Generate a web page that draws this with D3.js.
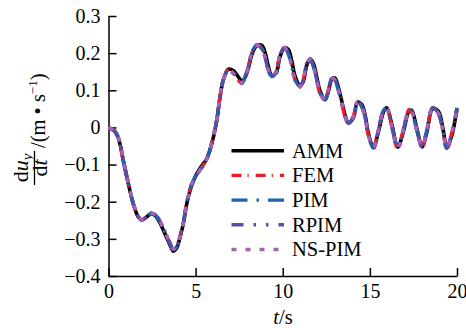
<!DOCTYPE html>
<html>
<head>
<meta charset="utf-8">
<script src="https://cdn.jsdelivr.net/npm/d3@7"></script>
<style>
  html, body { margin: 0; padding: 0; background: #fff; }
  svg { display: block; }
  text { font-family: "Liberation Serif", "Times New Roman", serif; fill: #000; }
</style>
</head>
<body>
<svg id="chart" width="466" height="328"></svg>
<script>
// Time samples, s
const time = [0,0.3,0.5,0.66,0.85,1.14,1.42,1.71,1.9,2.19,
  2.45,2.7,2.96,3.24,3.53,3.72,3.91,4.1,4.29,4.49,
  4.68,4.87,5.1,5.4,5.6,5.92,6.21,6.4,6.59,6.88,
  7.16,7.45,7.65,7.84,8.03,8.22,8.5,8.79,8.98,9.17,
  9.37,9.62,9.84,10.1,10.32,10.52,10.71,10.99,11.18,11.38,
  11.57,11.76,11.95,12.14,12.43,12.62,12.82,13.0,13.19,13.39,
  13.58,13.77,14.05,14.3,14.53,14.72,14.91,15.2,15.49,15.8,
  15.97,16.26,16.6,16.92,17.25,17.4,17.69,18.0,18.27,18.6,
  18.93,19.22,19.41,19.7,20.0];

// Vertical velocity du_y/dt, m/s, one array per method
const amm = [0,-0.008,-0.021,-0.045,-0.09,-0.152,-0.206,-0.241,-0.25,-0.241,
  -0.232,-0.238,-0.258,-0.286,-0.317,-0.333,-0.325,-0.297,-0.26,-0.206,
  -0.17,-0.145,-0.122,-0.1,-0.088,-0.045,0.018,0.081,0.128,0.157,
  0.153,0.136,0.124,0.135,0.16,0.195,0.22,0.221,0.203,0.165,
  0.14,0.147,0.19,0.214,0.21,0.178,0.138,0.113,0.124,0.168,
  0.184,0.172,0.136,0.098,0.075,0.097,0.13,0.133,0.108,0.07,
  0.033,0.012,0.026,0.068,0.062,0.035,-0.015,-0.054,-0.012,0.044,
  0.053,0.008,-0.053,-0.012,0.044,0.046,-0.002,-0.052,-0.012,0.05,
  0.044,-0.01,-0.055,-0.022,0.05];
const fem = [0,-0.008,-0.02,-0.044,-0.089,-0.151,-0.205,-0.24,-0.249,-0.24,
  -0.23,-0.234,-0.253,-0.282,-0.313,-0.329,-0.322,-0.294,-0.256,-0.203,
  -0.166,-0.14,-0.124,-0.104,-0.09,-0.044,0.02,0.084,0.129,0.155,
  0.147,0.127,0.118,0.136,0.165,0.201,0.223,0.214,0.19,0.154,
  0.136,0.151,0.196,0.216,0.198,0.163,0.127,0.109,0.129,0.174,
  0.184,0.164,0.127,0.091,0.073,0.102,0.133,0.128,0.1,0.064,
  0.028,0.01,0.03,0.071,0.056,0.028,-0.021,-0.057,-0.006,0.048,
  0.05,0.001,-0.057,-0.006,0.048,0.042,-0.008,-0.055,-0.006,0.054,
  0.037,-0.017,-0.058,-0.015,0.053];
const pim = [0,-0.008,-0.02,-0.043,-0.088,-0.15,-0.204,-0.24,-0.249,-0.24,
  -0.231,-0.236,-0.254,-0.281,-0.312,-0.328,-0.321,-0.294,-0.258,-0.204,
  -0.168,-0.142,-0.125,-0.105,-0.09,-0.043,0.02,0.083,0.128,0.155,
  0.146,0.128,0.119,0.137,0.164,0.2,0.222,0.213,0.19,0.155,
  0.137,0.15,0.195,0.215,0.198,0.164,0.128,0.11,0.128,0.173,
  0.183,0.164,0.128,0.092,0.074,0.101,0.132,0.128,0.101,0.065,
  0.029,0.011,0.029,0.07,0.056,0.029,-0.02,-0.055,-0.007,0.047,
  0.05,0.002,-0.055,-0.007,0.047,0.042,-0.007,-0.053,-0.007,0.053,
  0.038,-0.016,-0.056,-0.016,0.052];
const rpim = [0,-0.008,-0.02,-0.043,-0.088,-0.15,-0.204,-0.24,-0.249,-0.24,
  -0.231,-0.236,-0.254,-0.281,-0.312,-0.328,-0.321,-0.294,-0.258,-0.204,
  -0.168,-0.142,-0.125,-0.105,-0.09,-0.043,0.02,0.083,0.128,0.155,
  0.146,0.128,0.119,0.137,0.164,0.2,0.222,0.213,0.19,0.155,
  0.137,0.15,0.195,0.215,0.198,0.164,0.128,0.11,0.128,0.173,
  0.183,0.164,0.128,0.092,0.074,0.101,0.132,0.128,0.101,0.065,
  0.029,0.011,0.029,0.07,0.056,0.029,-0.02,-0.055,-0.007,0.047,
  0.05,0.002,-0.055,-0.007,0.047,0.042,-0.007,-0.053,-0.007,0.053,
  0.038,-0.016,-0.056,-0.016,0.052];
const nsPim = [0,-0.008,-0.02,-0.043,-0.088,-0.15,-0.204,-0.24,-0.249,-0.24,
  -0.231,-0.236,-0.254,-0.281,-0.312,-0.328,-0.321,-0.294,-0.258,-0.204,
  -0.168,-0.142,-0.125,-0.105,-0.09,-0.043,0.02,0.083,0.128,0.155,
  0.146,0.128,0.119,0.137,0.164,0.2,0.222,0.213,0.19,0.155,
  0.137,0.15,0.195,0.215,0.198,0.164,0.128,0.11,0.128,0.173,
  0.183,0.164,0.128,0.092,0.074,0.101,0.132,0.128,0.101,0.065,
  0.029,0.011,0.029,0.07,0.056,0.029,-0.02,-0.055,-0.007,0.047,
  0.05,0.002,-0.055,-0.007,0.047,0.042,-0.007,-0.053,-0.007,0.053,
  0.038,-0.016,-0.056,-0.016,0.052];

const seriesNames = ["AMM", "FEM", "PIM", "RPIM", "NS-PIM"];
const seriesValues = [amm, fem, pim, rpim, nsPim];
const seriesColors = ["#000000", "#ee1d24", "#2161b2", "#5a4fa7", "#a660b3"];
const seriesDash = [null, "10,6,1.2,7", "16,9,2.5,9", "12,10,2.5,10,2.5,10", "5,9"];
const seriesWidth = [3.6, 3.4, 3.4, 3.4, 3.6];

const xTicks = [0, 5, 10, 15, 20];
const yTicks = [-0.4, -0.3, -0.2, -0.1, 0, 0.1, 0.2, 0.3];

const svg = d3.select("#chart");
const x = d3.scaleLinear().domain([0, 20]).range([108.5, 457]);
const y = d3.scaleLinear().domain([-0.4, 0.3]).range([276, 16]);

const fmtY = v => v === 0 ? "0" : d3.format(".1f")(v).replace("-", "\u2212");

// Axes: ticks point inward
const xAxis = svg.append("g").attr("transform", `translate(0,${y(-0.4)})`)
  .call(d3.axisBottom(x).tickValues(xTicks).tickSizeInner(-8).tickSizeOuter(0).tickPadding(18).tickFormat(d3.format("d")));
const yAxis = svg.append("g").attr("transform", `translate(${x(0)},0)`)
  .call(d3.axisLeft(y).tickValues(yTicks).tickSizeInner(-8).tickSizeOuter(0).tickPadding(8).tickFormat(fmtY));

[xAxis, yAxis].forEach(g => {
  g.attr("font-family", "Liberation Serif, serif");
  g.select(".domain").attr("stroke", "#000").attr("stroke-width", 1.5);
  g.selectAll(".tick line").attr("stroke", "#000").attr("stroke-width", 1.5);
  g.selectAll(".tick text").attr("font-size", 20).attr("fill", "#000");
});
xAxis.selectAll(".tick text").attr("dy", "0.71em").attr("y", 8);

// Curves
const line = d3.line().x(d => x(d[0])).y(d => y(d[1])).curve(d3.curveCatmullRom.alpha(0.5));
seriesValues.forEach((vals, i) => {
  svg.append("path")
    .datum(time.map((t, k) => [t, vals[k]]))
    .attr("fill", "none")
    .attr("stroke", seriesColors[i])
    .attr("stroke-width", seriesWidth[i])
    .attr("stroke-dasharray", seriesDash[i])
    .attr("d", line);
});

// Legend
const legend = svg.append("g");
seriesNames.forEach((name, i) => {
  const ly = 150.7 + i * 24.7;
  legend.append("line")
    .attr("x1", 231.5).attr("x2", 284).attr("y1", ly).attr("y2", ly)
    .attr("stroke", seriesColors[i])
    .attr("stroke-width", seriesWidth[i])
    .attr("stroke-dasharray", seriesDash[i]);
  legend.append("text")
    .attr("x", 292).attr("y", ly + 6.8)
    .attr("font-size", 20.5)
    .text(name);
});

// X axis title
const xt = svg.append("text").attr("x", 283).attr("y", 324).attr("text-anchor", "middle").attr("font-size", 20.5);
xt.append("tspan").attr("font-style", "italic").text("t");
xt.append("tspan").text("/s");

// Y axis title: du_y/dt /(m · s^-1), rotated
const yl = svg.append("g").attr("transform", "translate(47,168) rotate(-90)");
const num = yl.append("text").attr("x", 0).attr("y", -19).attr("text-anchor", "middle").attr("font-size", 22);
num.append("tspan").text("d");
num.append("tspan").attr("font-style", "italic").text("u");
num.append("tspan").attr("font-style", "italic").attr("font-size", 15).attr("dy", 4).text("y");
yl.append("line").attr("x1", -17).attr("x2", 17).attr("y1", -12.5).attr("y2", -12.5)
  .attr("stroke", "#000").attr("stroke-width", 1.3);
const den = yl.append("text").attr("x", 0).attr("y", 0).attr("text-anchor", "middle").attr("font-size", 22);
den.append("tspan").text("d");
den.append("tspan").attr("font-style", "italic").text("t");
const unit = yl.append("text").attr("x", 20).attr("y", -2).attr("font-size", 20.5);
unit.append("tspan").text("/(m \u2022 s");
unit.append("tspan").attr("font-size", 13).attr("dy", -8).text("\u22121");
unit.append("tspan").attr("dy", 8).text(")");
</script>
</body>
</html>
